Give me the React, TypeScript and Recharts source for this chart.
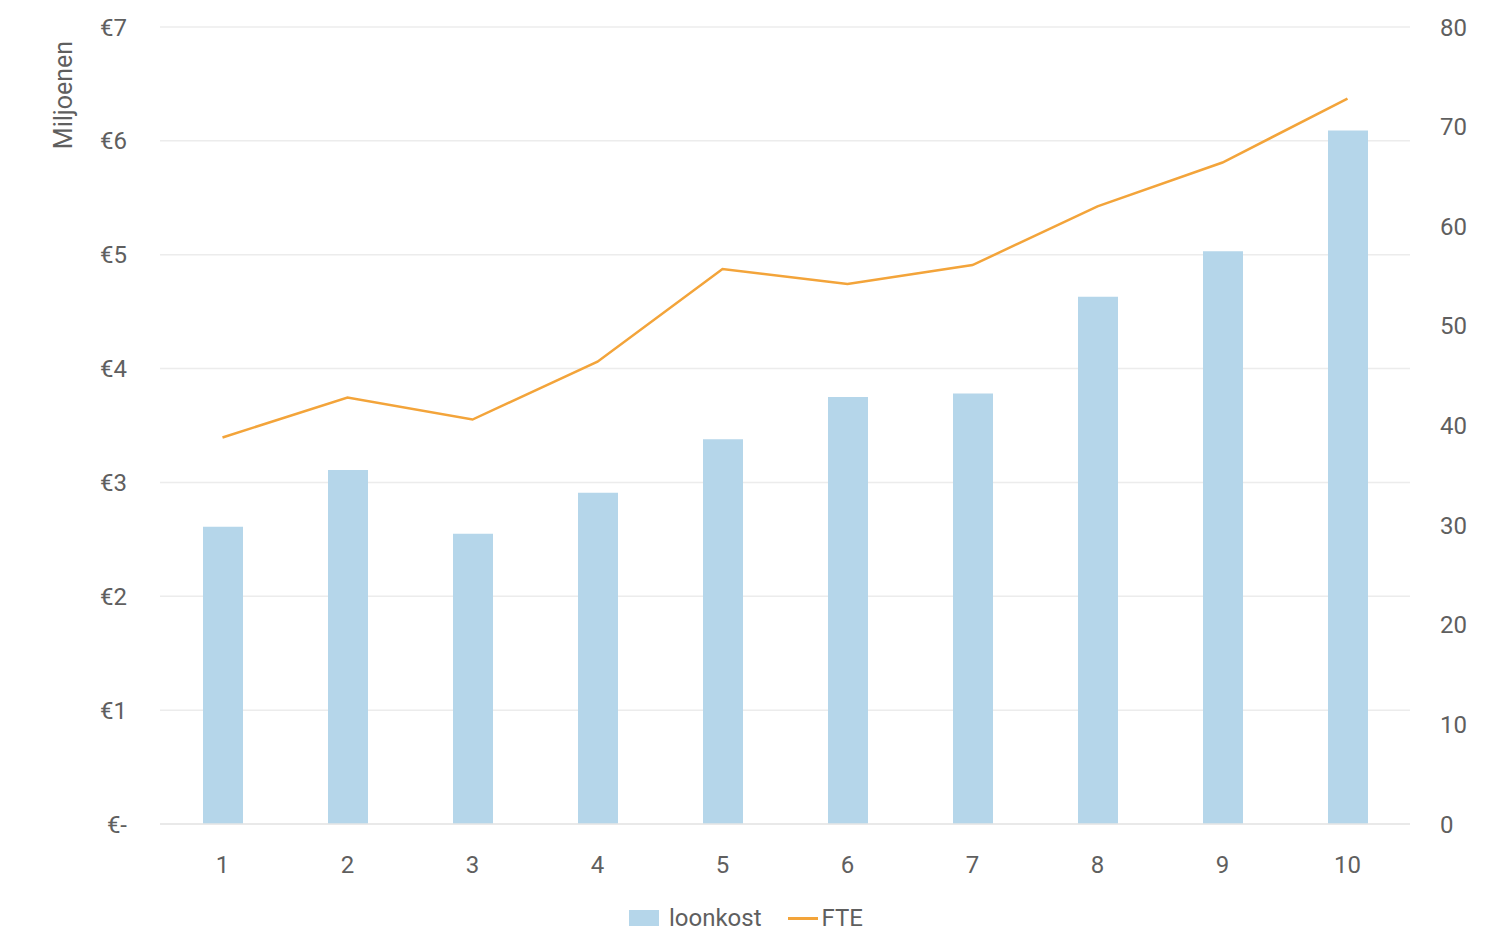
import { Bar, CartesianGrid, ComposedChart, Label, Legend, Line, XAxis, YAxis } from 'recharts'

// jaar 1..10, loonkost in miljoenen euro, FTE op rechteras
const periods = ['1', '2', '3', '4', '5', '6', '7', '8', '9', '10']
const loonkost = [2.61, 3.11, 2.55, 2.91, 3.38, 3.75, 3.78, 4.63, 5.03, 6.09]
const fte = [38.8, 42.8, 40.6, 46.4, 55.7, 54.2, 56.1, 62.0, 66.4, 72.8]
const euroTicks = [0, 1, 2, 3, 4, 5, 6, 7]
const fteTicks = [0, 10, 20, 30, 40, 50, 60, 70, 80]
const legendOrder = ['loonkost', 'FTE']

const data = periods.map((name, i) => ({ name, loonkost: loonkost[i], FTE: fte[i] }))

const BLUE = '#b5d6ea'
const ORANGE = '#f3a43a'
const TXT = '#5f5f5f'
const FONT = 'Roboto, "Noto Sans", sans-serif'
const tick = { fontSize: 24, fill: TXT, fontFamily: FONT }

function LegendRow({ payload }: any) {
  const items = [...(payload || [])].sort(
    (a: any, b: any) => legendOrder.indexOf(a.value) - legendOrder.indexOf(b.value)
  )
  return (
    <div
      style={{
        height: 50,
        display: 'flex',
        justifyContent: 'center',
        alignItems: 'flex-end',
        gap: 26,
        fontFamily: FONT,
        fontSize: 24,
        color: TXT,
        paddingBottom: 2,
        boxSizing: 'border-box',
      }}
    >
      {items.map((p: any) => (
        <span
          key={p.value}
          style={{ display: 'flex', alignItems: 'center', gap: p.type === 'line' ? 4 : 10 }}
        >
          {p.type === 'line' ? (
            <span style={{ width: 30, height: 3, background: ORANGE, display: 'inline-block' }} />
          ) : (
            <span style={{ width: 30, height: 16, background: BLUE, display: 'inline-block' }} />
          )}
          {p.value}
        </span>
      ))}
    </div>
  )
}

export default function App() {
  return (
    <div style={{ position: 'absolute', left: 0, top: 0, background: '#fff' }}>
      <ComposedChart
        width={1492}
        height={934}
        data={data}
        margin={{ top: 27, right: 0, bottom: 0, left: 0 }}
      >
        <CartesianGrid yAxisId="left" stroke="#ececec" strokeWidth={1.5} vertical={false} />
        <XAxis
          dataKey="name"
          height={60}
          tick={tick}
          tickLine={false}
          axisLine={{ stroke: '#e6e6e6', strokeWidth: 1.5 }}
          tickSize={0}
          tickMargin={32}
        />
        <YAxis
          yAxisId="left"
          width={160}
          domain={[0, 7]}
          ticks={euroTicks}
          tick={tick}
          tickLine={false}
          axisLine={false}
          tickSize={0}
          tickMargin={33}
          tickFormatter={(v: number) => (v === 0 ? '€-' : `€${v}`)}
        >
          <Label
            content={({ viewBox }: any) => (
              <text
                x={viewBox.x + 72}
                y={viewBox.y + 68}
                transform={`rotate(-90 ${viewBox.x + 72} ${viewBox.y + 68})`}
                textAnchor="middle"
                fontSize={25}
                fill={TXT}
                fontFamily={FONT}
              >
                Miljoenen
              </text>
            )}
          />
        </YAxis>
        <YAxis
          yAxisId="right"
          orientation="right"
          width={82}
          domain={[0, 80]}
          ticks={fteTicks}
          tick={tick}
          tickLine={false}
          axisLine={false}
          tickSize={0}
          tickMargin={30}
        />
        <Legend verticalAlign="bottom" height={50} content={<LegendRow />} />
        <Bar
          yAxisId="left"
          dataKey="loonkost"
          name="loonkost"
          fill={BLUE}
          barSize={40}
          legendType="rect"
          isAnimationActive={false}
        />
        <Line
          yAxisId="right"
          dataKey="FTE"
          name="FTE"
          type="linear"
          stroke={ORANGE}
          strokeWidth={2.5}
          dot={false}
          legendType="line"
          isAnimationActive={false}
        />
      </ComposedChart>
    </div>
  )
}
